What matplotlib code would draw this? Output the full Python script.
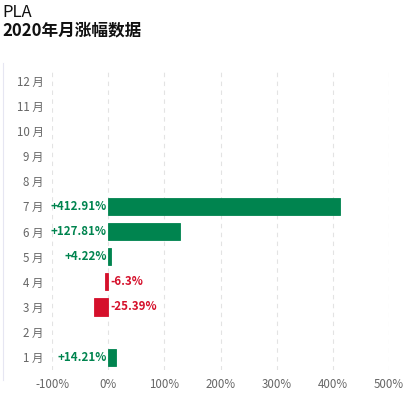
import matplotlib
matplotlib.use("Agg")
import matplotlib.pyplot as plt

plt.rcParams['font.family'] = ['Noto Sans CJK SC', 'DejaVu Sans']

months = ["1 月", "2 月", "3 月", "4 月", "5 月", "6 月",
          "7 月", "8 月", "9 月", "10 月", "11 月", "12 月"]
changes = [14.21, None, -25.39, -6.3, 4.22, 127.81, 412.91,
           None, None, None, None, None]
labels = ["+14.21%", "", "-25.39%", "-6.3%", "+4.22%", "+127.81%",
          "+412.91%", "", "", "", "", ""]
xticks = [-100, 0, 100, 200, 300, 400, 500]
xtick_labels = ["-100%", "0%", "100%", "200%", "300%", "400%", "500%"]

GREEN = "#00844f"
RED = "#d5102b"

fig = plt.figure(figsize=(4.2, 3.96), dpi=100)
ax = fig.add_axes([0.124, 0.066, 0.802, 0.762])

for i, (v, lab) in enumerate(zip(changes, labels)):
    if v is None:
        continue
    color = GREEN if v >= 0 else RED
    ax.barh(i, v, height=0.68, color=color, edgecolor=color, linewidth=0.6, zorder=3)
    if v >= 0:
        ax.text(-3, i, lab, ha="right", va="center", color=color,
                fontsize=8.3, fontweight="bold", zorder=4)
    else:
        ax.text(3, i, lab, ha="left", va="center", color=color,
                fontsize=8.3, fontweight="bold", zorder=4)

ax.set_xlim(-100, 500)
ax.set_ylim(-0.5, 11.5)
ax.set_xticks(xticks)
ax.set_xticklabels(xtick_labels)
ax.set_yticks(range(len(months)))
ax.set_yticklabels(months)
ax.tick_params(axis="both", length=0, labelsize=8.3, colors="#666666", pad=6)
ax.xaxis.grid(True, linestyle=(0, (4, 4)), color="#e3e3e3", linewidth=0.8, zorder=0)
for s in ax.spines.values():
    s.set_visible(False)

fig.text(0.005, 0.99, "PLA", ha="left", va="top", fontsize=12, color="#111111")
fig.text(0.005, 0.945, "2020年月涨幅数据", ha="left", va="top", fontsize=12,
         fontweight="bold", color="#111111")
fig.add_artist(plt.Line2D([0.008, 0.008], [0.04, 0.84], color="#e6e6f2", linewidth=0.8))

fig.savefig("out.png", dpi=100)
